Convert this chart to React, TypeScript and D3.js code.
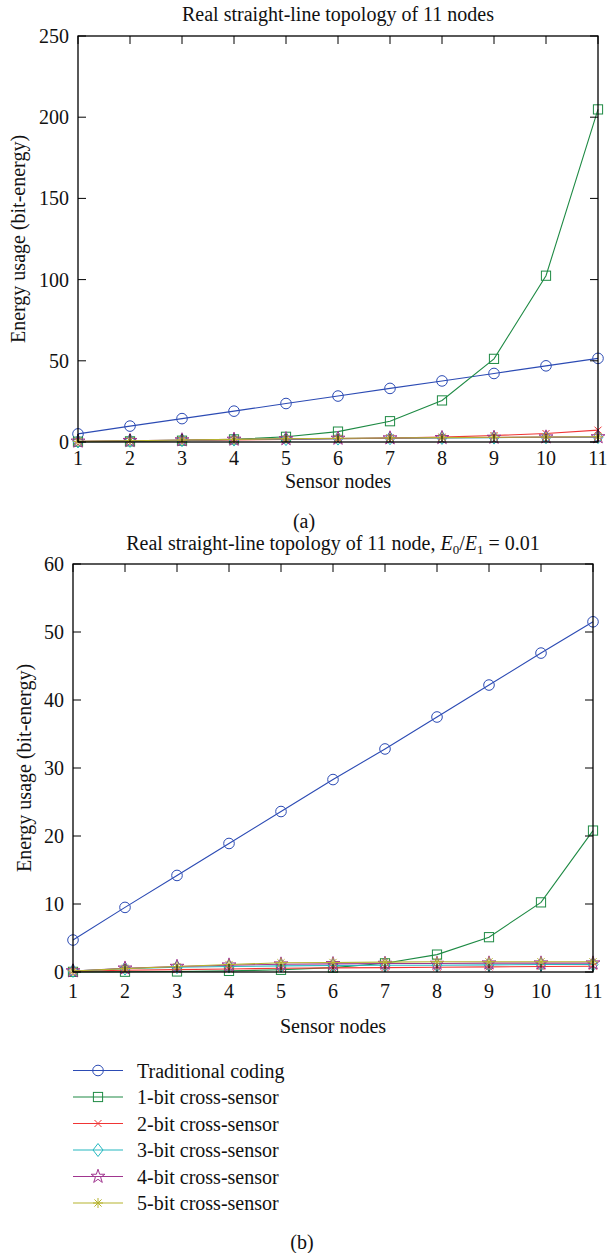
import React from "react";
import * as d3 from "d3";

const nodes = [1, 2, 3, 4, 5, 6, 7, 8, 9, 10, 11];
const seriesNames = [
  "Traditional coding",
  "1-bit cross-sensor",
  "2-bit cross-sensor",
  "3-bit cross-sensor",
  "4-bit cross-sensor",
  "5-bit cross-sensor",
];
const seriesColors = ["#2c4bb4", "#1e8a44", "#f03535", "#26b8c0", "#a0358f", "#b6b32e"];
const seriesMarkers = ["circle", "square", "x", "diamond", "star", "asterisk"];

// (a) real straight-line topology of 11 nodes
const traditionalA = [5, 9.8, 14.4, 19, 23.7, 28.3, 33, 37.6, 42.2, 46.9, 51.5];
const bit1A = [0.2, 0.4, 0.8, 1.6, 3.2, 6.4, 12.8, 25.6, 51.2, 102.4, 204.8];
const bit2A = [0.3, 0.6, 0.9, 1.2, 1.6, 2, 2.4, 3, 4, 5.2, 7.3];
const bit3A = [0.3, 0.7, 1.1, 1.5, 1.8, 2.1, 2.3, 2.5, 2.7, 2.9, 3];
const bit4A = [0.4, 0.8, 1.2, 1.6, 1.9, 2.2, 2.4, 2.6, 2.8, 3, 3.1];
const bit5A = [0.4, 0.8, 1.2, 1.6, 2, 2.3, 2.5, 2.7, 2.9, 3.1, 3.2];

// (b) E0/E1 = 0.01
const traditionalB = [4.7, 9.5, 14.2, 18.9, 23.6, 28.3, 32.8, 37.5, 42.2, 46.9, 51.5];
const bit1B = [0.02, 0.04, 0.08, 0.16, 0.32, 0.64, 1.28, 2.56, 5.12, 10.24, 20.8];
const bit2B = [0.1, 0.25, 0.35, 0.45, 0.55, 0.6, 0.65, 0.7, 0.75, 0.8, 0.85];
const bit3B = [0.15, 0.5, 0.7, 0.8, 0.9, 0.95, 1, 1, 1.05, 1.1, 1.1];
const bit4B = [0.15, 0.55, 0.8, 1, 1.15, 1.2, 1.25, 1.25, 1.3, 1.3, 1.3];
const bit5B = [0.15, 0.5, 0.8, 1.1, 1.35, 1.4, 1.45, 1.5, 1.5, 1.5, 1.5];

const yTicksA = [0, 50, 100, 150, 200, 250];
const yTicksB = [0, 10, 20, 30, 40, 50, 60];

const FONT = "'Liberation Serif', 'DejaVu Serif', serif";
const FS = 20;

const Marker = ({ kind, x, y, color }: { kind: string; x: number; y: number; color: string }) => {
  const common = { stroke: color, fill: "none", strokeWidth: 1 };
  if (kind === "circle") return <circle cx={x} cy={y} r={5.3} {...common} />;
  if (kind === "square") return <rect x={x - 4.6} y={y - 4.6} width={9.2} height={9.2} {...common} />;
  if (kind === "x")
    return <path d={`M${x - 3.5},${y - 3.5}L${x + 3.5},${y + 3.5}M${x - 3.5},${y + 3.5}L${x + 3.5},${y - 3.5}`} {...common} />;
  if (kind === "diamond")
    return <path d={`M${x},${y - 6.5}L${x + 5},${y}L${x},${y + 6.5}L${x - 5},${y}Z`} {...common} />;
  if (kind === "star")
    return <path transform={`translate(${x},${y})`} d={d3.symbol(d3.symbolStar, 60)() as string} {...common} />;
  // asterisk
  const r = 5;
  const d = 3.6;
  return (
    <path
      d={`M${x - r},${y}L${x + r},${y}M${x},${y - r}L${x},${y + r}M${x - d},${y - d}L${x + d},${y + d}M${x - d},${y + d}L${x + d},${y - d}`}
      {...common}
    />
  );
};

type ChartProps = {
  series: number[][];
  left: number;
  right: number;
  top: number;
  bottom: number;
  yTicks: number[];
  title: React.ReactNode;
  titleY: number;
  ylabelX: number;
  tickLabelY: number;
  xlabelY: number;
};

const Chart = ({ series, left, right, top, bottom, yTicks, title, titleY, ylabelX, tickLabelY, xlabelY }: ChartProps) => {
  const x = d3.scaleLinear().domain([1, 11]).range([left, right]);
  const y = d3.scaleLinear().domain([0, yTicks[yTicks.length - 1]]).range([bottom, top]);
  const line = d3
    .line<number>()
    .x((_, i) => x(nodes[i]))
    .y((d) => y(d));
  const tk = 8;
  return (
    <g fontFamily={FONT} fill="#111">
      <text x={(left + right) / 2} y={titleY} textAnchor="middle" fontSize={FS}>
        {title}
      </text>
      {series.map((s, si) => (
        <g key={si}>
          <path d={line(s) as string} fill="none" stroke={seriesColors[si]} strokeWidth={1.1} />
          {s.map((v, i) => (
            <Marker key={i} kind={seriesMarkers[si]} x={x(nodes[i])} y={y(v)} color={seriesColors[si]} />
          ))}
        </g>
      ))}
      <rect x={left} y={top} width={right - left} height={bottom - top} fill="none" stroke="#000" strokeWidth={1.3} />
      {nodes.map((n) => (
        <g key={n}>
          <line x1={x(n)} x2={x(n)} y1={bottom} y2={bottom - tk} stroke="#000" />
          <line x1={x(n)} x2={x(n)} y1={top} y2={top + tk} stroke="#000" />
          <text x={x(n)} y={tickLabelY} textAnchor="middle" fontSize={FS}>
            {n}
          </text>
        </g>
      ))}
      {yTicks.map((t) => (
        <g key={t}>
          <line x1={left} x2={left + tk} y1={y(t)} y2={y(t)} stroke="#000" />
          <line x1={right} x2={right - tk} y1={y(t)} y2={y(t)} stroke="#000" />
          <text x={left - 9} y={y(t) + 7} textAnchor="end" fontSize={FS}>
            {t}
          </text>
        </g>
      ))}
      <text x={(left + right) / 2} y={xlabelY} textAnchor="middle" fontSize={FS}>
        Sensor nodes
      </text>
      <text
        transform={`translate(${ylabelX},${(top + bottom) / 2}) rotate(-90)`}
        textAnchor="middle"
        fontSize={FS}
      >
        Energy usage (bit-energy)
      </text>
    </g>
  );
};

export default function App() {
  const legendTop = 1070.5;
  const legendStep = 26.5;
  return (
    <svg
      width={608}
      height={1253}
      style={{ position: "absolute", left: 0, top: 0, background: "#fff" }}
    >
      <rect width={608} height={1253} fill="#fff" />
      <Chart
        series={[traditionalA, bit1A, bit2A, bit3A, bit4A, bit5A]}
        left={78}
        right={598}
        top={36}
        bottom={442}
        yTicks={yTicksA}
        title="Real straight-line topology of 11 nodes"
        titleY={21}
        ylabelX={25}
        tickLabelY={465}
        xlabelY={488}
      />
      <text x={304} y={528} textAnchor="middle" fontSize={FS} fontFamily={FONT} fill="#111">
        (a)
      </text>
      <Chart
        series={[traditionalB, bit1B, bit2B, bit3B, bit4B, bit5B]}
        left={73}
        right={593}
        top={564}
        bottom={972}
        yTicks={yTicksB}
        title={
          <>
            Real straight-line topology of 11 node,{" "}
            <tspan fontStyle="italic">E</tspan>
            <tspan fontSize={13} dy={4}>0</tspan>
            <tspan dy={-4}>/</tspan>
            <tspan fontStyle="italic">E</tspan>
            <tspan fontSize={13} dy={4}>1</tspan>
            <tspan dy={-4}> = 0.01</tspan>
          </>
        }
        titleY={550}
        ylabelX={31}
        tickLabelY={998}
        xlabelY={1033}
      />
      <g fontFamily={FONT} fontSize={FS}>
        {seriesNames.map((name, i) => {
          const yy = legendTop + i * legendStep;
          return (
            <g key={name}>
              <line x1={73} x2={123} y1={yy} y2={yy} stroke={seriesColors[i]} strokeWidth={1.1} />
              <Marker kind={seriesMarkers[i]} x={98} y={yy} color={seriesColors[i]} />
              <text x={137} y={yy + 7} fill="#111">
                {name}
              </text>
            </g>
          );
        })}
        <text x={302} y={1249} textAnchor="middle" fill="#111">
          (b)
        </text>
      </g>
    </svg>
  );
}
